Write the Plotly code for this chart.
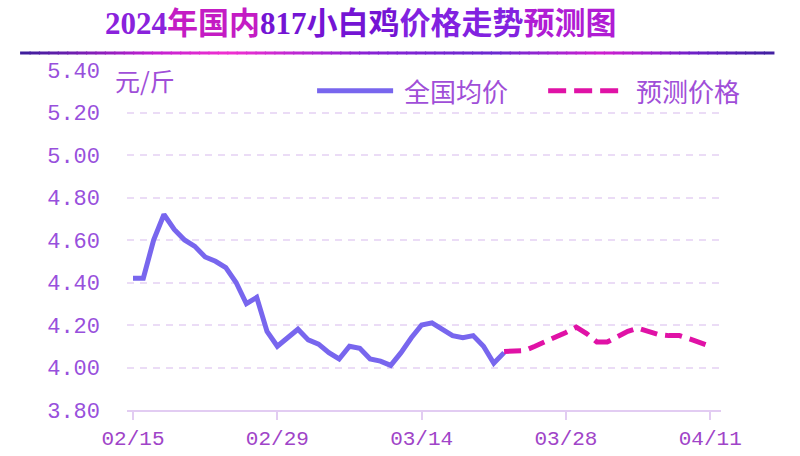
import pandas as pd
import plotly.graph_objects as go

# daily national average price (yuan/jin), 02/15 .. 03/22
actual_start = "2024-02-15"
actual_prices = [4.42, 4.42, 4.60, 4.72, 4.65, 4.60, 4.57, 4.52, 4.50, 4.47,
                 4.40, 4.30, 4.33, 4.17, 4.10, 4.14, 4.18, 4.13, 4.11, 4.07,
                 4.04, 4.10, 4.09, 4.04, 4.03, 4.01, 4.07, 4.14, 4.20, 4.21,
                 4.18, 4.15, 4.14, 4.15, 4.10, 4.02, 4.07]

# forecast, 03/22 .. 04/11
forecast_start = "2024-03-22"
forecast_prices = [4.075, 4.08, 4.08, 4.10, 4.12, 4.14, 4.165, 4.19, 4.16, 4.12,
                   4.12, 4.145, 4.17, 4.185, 4.17, 4.155, 4.15, 4.15, 4.135, 4.115,
                   4.10]

tick_dates = ["2024-02-15", "2024-02-29", "2024-03-14", "2024-03-28", "2024-04-11"]
tick_labels = ["02/15", "02/29", "03/14", "03/28", "04/11"]
y_ticks = [3.8, 4.0, 4.2, 4.4, 4.6, 4.8, 5.0, 5.2, 5.4]

actual_dates = pd.date_range(actual_start, periods=len(actual_prices), freq="D")
forecast_dates = pd.date_range(forecast_start, periods=len(forecast_prices), freq="D")

SOLID = "#7866EE"
DASHED = "#E012A6"
TXT = "#A04ED8"
MONO = "Liberation Mono, DejaVu Sans Mono, monospace"
CJK = "Noto Sans CJK SC, sans-serif"

fig = go.Figure()
fig.add_trace(go.Scatter(x=actual_dates, y=actual_prices, mode="lines", name="全国均价",
                         line=dict(color=SOLID, width=5)))
fig.add_trace(go.Scatter(x=forecast_dates, y=forecast_prices, mode="lines", name="预测价格",
                         line=dict(color=DASHED, width=5, dash="17px,8px")))


def mix(c1, c2, t):
    a = [int(c1[i:i + 2], 16) for i in (1, 3, 5)]
    b = [int(c2[i:i + 2], 16) for i in (1, 3, 5)]
    return "#" + "".join("%02x" % round(a[k] + (b[k] - a[k]) * t) for k in range(3))


# gradient rule under the title (paper coords)
stops = [(-0.18, "#3a1e9a"), (0.04, "#c020d0"), (0.17, "#f030d0"), (0.40, "#8a22d4"),
         (0.62, "#6a2ad0"), (0.80, "#d020d0"), (0.95, "#7020c8"), (1.088, "#4020a0")]
shapes = []
n = 80
x0, x1 = -0.18, 1.088
for i in range(n):
    a = x0 + (x1 - x0) * i / n
    b = x0 + (x1 - x0) * (i + 1) / n
    m = (a + b) / 2
    for j in range(len(stops) - 1):
        if stops[j][0] <= m <= stops[j + 1][0]:
            t = (m - stops[j][0]) / (stops[j + 1][0] - stops[j][0])
            col = mix(stops[j][1], stops[j + 1][1], t)
            break
    shapes.append(dict(type="line", xref="paper", yref="paper", x0=a, x1=b + 0.002,
                       y0=1.05, y1=1.05, line=dict(color=col, width=3)))

# legend samples
shapes.append(dict(type="line", xref="paper", yref="paper", x0=0.320, x1=0.448,
                   y0=0.939, y1=0.939, line=dict(color=SOLID, width=5)))
shapes.append(dict(type="line", xref="paper", yref="paper", x0=0.709, x1=0.835,
                   y0=0.939, y1=0.939, line=dict(color=DASHED, width=5, dash="18px,8px")))

title = ('<span style="color:#8a22dc">2024</span>'
         '<span style="color:#c41cc4">年国内</span>'
         '<span style="color:#7414d4">817小白鸡</span>'
         '<span style="color:#8222e0">价格走势</span>'
         '<span style="color:#b01cd4">预测图</span>')

annotations = [
    dict(text=title, xref="paper", yref="paper", x=-0.040, y=1.138, xanchor="left",
         yanchor="middle", showarrow=False,
         font=dict(size=31, family="Liberation Serif, Noto Sans CJK SC", weight="bold")),
    dict(text="元/斤", xref="paper", yref="paper", x=-0.024, y=0.97, xanchor="left",
         yanchor="middle", showarrow=False, font=dict(size=25, family=CJK, color=TXT)),
    dict(text="全国均价", xref="paper", yref="paper", x=0.463, y=0.939, xanchor="left",
         yanchor="middle", showarrow=False, font=dict(size=26, family=CJK, color=TXT)),
    dict(text="预测价格", xref="paper", yref="paper", x=0.853, y=0.939, xanchor="left",
         yanchor="middle", showarrow=False, font=dict(size=26, family=CJK, color=TXT)),
]

fig.update_layout(
    width=800, height=456,
    margin=dict(l=127, r=79, t=70, b=46),
    paper_bgcolor="white",
    plot_bgcolor="white",
    showlegend=False,
    shapes=shapes,
    annotations=annotations,
    xaxis=dict(
        range=["2024-02-14 10:00", "2024-04-12 01:00"],
        tickvals=tick_dates,
        ticktext=tick_labels,
        showgrid=False,
        showline=True, linecolor="#e2ccf2", linewidth=2,
        ticks="outside", ticklen=8, tickcolor="#e2ccf2", tickwidth=2,
        tickfont=dict(family=MONO, size=21, color="#a044c8"),
        automargin=False,
    ),
    yaxis=dict(
        range=[3.8, 5.4],
        tickvals=y_ticks,
        tickformat=".2f",
        showgrid=True, gridcolor="#ebdcf6", gridwidth=1.5, griddash="7px,6px",
        zeroline=False, showline=False,
        ticklabelstandoff=26,
        tickfont=dict(family=MONO, size=22, color="#9850dc"),
        automargin=False,
    ),
)

fig.write_html("out.html", config={"displayModeBar": False},
               post_script="document.body.style.margin='0';")
